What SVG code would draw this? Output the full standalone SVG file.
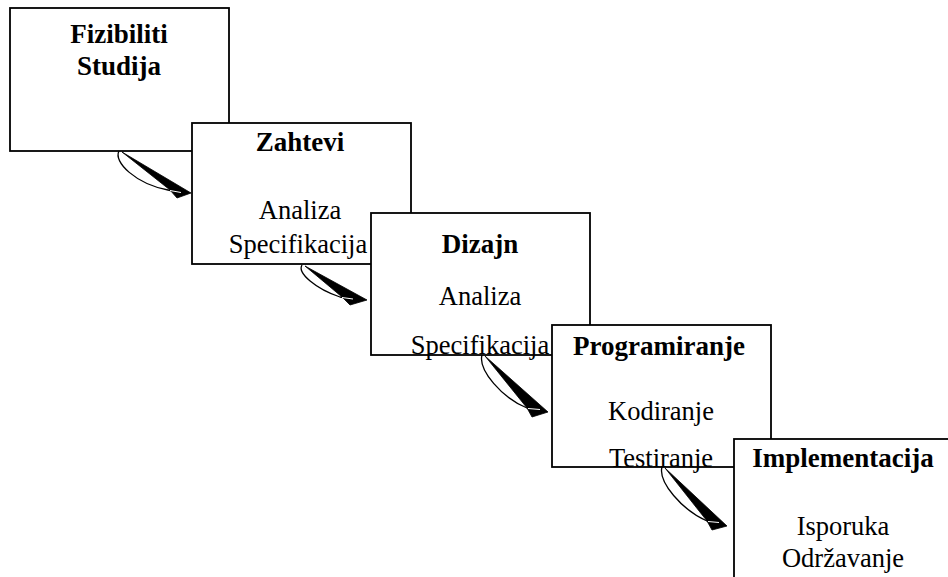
<svg xmlns="http://www.w3.org/2000/svg" width="948" height="577" viewBox="0 0 948 577">
<style>
.box{fill:#fff;stroke:#000;stroke-width:1.8}
.t{font-family:"Liberation Serif","Times New Roman",serif;font-size:26.5px;text-anchor:middle;fill:#000}
.b{font-weight:bold;font-size:27px}
.wedge{fill:#000;stroke:#000;stroke-width:0.8;stroke-linejoin:round}
.curve{fill:none;stroke:#000;stroke-width:1.3}
.hl{fill:none;stroke:#fff;stroke-width:1}
</style>
<rect width="948" height="577" fill="#fff"/>
<g id="node-fizibiliti">
<rect class="box" x="10" y="8" width="219" height="143"/>
<text class="t b" x="119" y="43">Fizibiliti</text>
<text class="t b" x="119" y="75">Studija</text>
</g>
<g id="node-zahtevi">
<rect class="box" x="192" y="123" width="219" height="141"/>
<text class="t b" x="300" y="151">Zahtevi</text>
<text class="t" x="300" y="219">Analiza</text>
<text class="t" x="298" y="253">Specifikacija</text>
</g>
<g id="node-dizajn">
<rect class="box" x="371" y="213" width="219" height="142"/>
<text class="t b" x="480" y="253">Dizajn</text>
<text class="t" x="480" y="305">Analiza</text>
<text class="t" x="480" y="354">Specifikacija</text>
</g>
<g id="node-programiranje">
<rect class="box" x="552" y="325" width="219" height="142"/>
<text class="t b" x="659" y="355">Programiranje</text>
<text class="t" x="661" y="420">Kodiranje</text>
<text class="t" x="661" y="467">Testiranje</text>
</g>
<g id="node-implementacija">
<rect class="box" x="734" y="439" width="240" height="160"/>
<text class="t b" x="843" y="467">Implementacija</text>
<text class="t" x="843" y="535">Isporuka</text>
<text class="t" x="843" y="567">Održavanje</text>
</g>
<g id="connectors">
<g id="arrow-1">
<path class="wedge" d="M122,152 L191,193 L177,198 L170,190 Z"/>
<path class="curve" d="M119,151 C113,162 136,184 168,190 L182,193"/>
<path class="hl" d="M170,190.5 L181,192.5"/>
</g>
<g id="arrow-2">
<path class="wedge" d="M305,266 L367,300 L350,305 L342,297 Z"/>
<path class="curve" d="M302,265 C297,273 316,289 340,297 L353,299"/>
<path class="hl" d="M342,297.5 L353,299"/>
</g>
<g id="arrow-3">
<path class="wedge" d="M485,356 L548,412 L532,417 L527,408 Z"/>
<path class="curve" d="M482,355 C478,370 502,398 527,408 L540,409"/>
<path class="hl" d="M528,408.5 L540,409.5"/>
</g>
<g id="arrow-4">
<path class="wedge" d="M665,468 L727,526 L712,530 L707,521 Z"/>
<path class="curve" d="M662,467 C658,482 682,510 707,521 L719,522"/>
<path class="hl" d="M708,521.5 L719,522.5"/>
</g>
</g>
</svg>
